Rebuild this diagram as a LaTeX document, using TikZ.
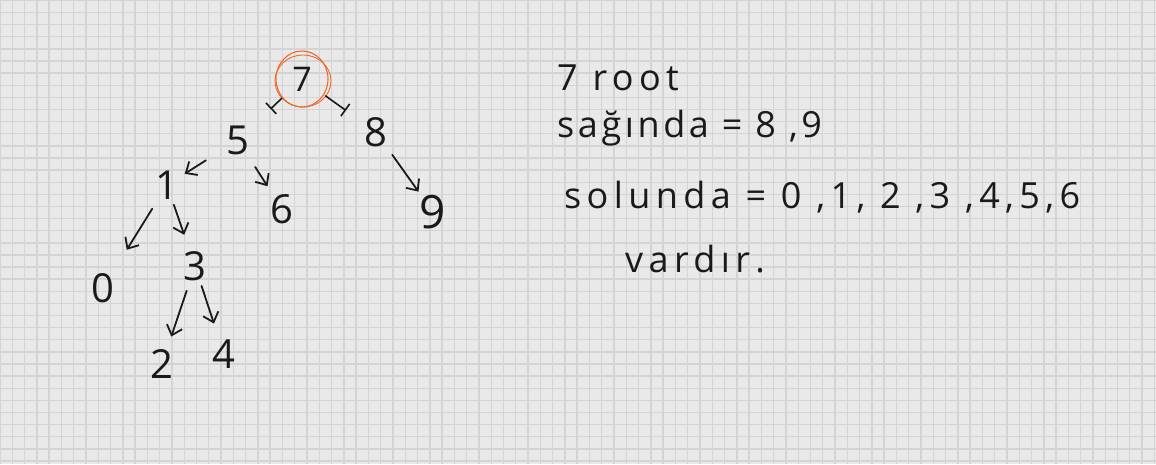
\documentclass[tikz,border=0pt]{standalone}
\usepackage{fontspec}
\setmainfont{Open Sans}
\newfontfamily\handwide[LetterSpace=15]{Open Sans}
\newfontfamily\handnarrow[LetterSpace=10]{Open Sans}
\usetikzlibrary{arrows.meta}
\definecolor{paper}{HTML}{E9E9E9}
\definecolor{gridline}{HTML}{D4D4D4}
\definecolor{ink}{HTML}{1A1A1A}
\definecolor{marker}{HTML}{EE6A2C}

\begin{document}
\begin{tikzpicture}[x=1pt, y=-1pt, every node/.style={text=ink}]
\tikzset{num/.style={inner sep=0pt, font=\fontsize{40}{44}\selectfont}}
\tikzset{link/.style={draw=ink, line width=1.8pt, line cap=round, -{Straight Barb[length=9pt,width=16pt]}}}
\tikzset{tee/.style={draw=ink, line width=1.6pt, line cap=round, -{Bar[width=15pt]}}}
\tikzset{note/.style={anchor=base west, inner sep=0pt, font=\fontsize{36}{40}\handwide}}
\useasboundingbox (0,0) rectangle (1156,464);
% paper with grid
\fill[paper] (0,0) rectangle (1156,464);
\foreach \i in {0,...,94} \draw[gridline, line width=1.4pt] (\i*12.28,0) -- (\i*12.28,464);
\foreach \j in {0,...,38} \draw[gridline, line width=1.4pt] (0,0.4+\j*12.12) -- (1156,0.4+\j*12.12);
% tree
\node[num, font=\fontsize{34}{38}\selectfont] (n7) at (302,79) {7};
\node[num] (n5) at (238,140) {5};
\node[num] (n8) at (376,132) {8};
\node[num] (n1) at (167,185) {1};
\node[num] (n6) at (282,209) {6};
\node[num, font=\fontsize{46}{50}\selectfont] (n9) at (433,212) {9};
\node[num] (n0) at (103,288) {0};
\node[num] (n3) at (195,266) {3};
\node[num] (n2) at (162,364) {2};
\node[num] (n4) at (224,354) {4};
\draw[marker, line width=1.1pt] (n7.center) ellipse (26 and 28);
\draw[marker, line width=0.9pt] ([xshift=1pt,yshift=-2pt]n7.center) ellipse (28 and 26);
\draw[tee, shorten <=28pt, shorten >=45pt] (n7.center) -- (n5.center);
\draw[tee, shorten <=29pt, shorten >=37pt] (n7.center) -- (n8.center);
\draw[link, shorten <=38pt, shorten >=21pt] (n5.center) -- (n1.center);
\draw[link, shorten <=32pt, shorten >=27pt] (n5.center) -- (n6.center);
\draw[link, shorten <=28pt, shorten >=25pt] (n8.center) -- (n9.center);
\draw[link, shorten <=28pt, shorten >=45pt] (n1.center) -- (n0.center);
\draw[link, shorten <=21pt, shorten >=33pt] (n1.center) -- (n3.center);
\draw[link, shorten <=26pt, shorten >=29pt] (n3.center) -- (n2.center);
\draw[link, shorten <=21pt, shorten >=32pt] (n3.center) -- (n4.center);
% notes
\node[note] (root) at (557,90) {7 root};
\node[note, font=\fontsize{36}{40}\handnarrow] (right) at (557,137) {sağında = 8 ,9};
\node[note] (left) at (564,208) {solunda = 0 ,1, 2 ,3 ,4,5,6};
\node[note] (end) at (625,272) {vardır.};
\end{tikzpicture}
\end{document}
